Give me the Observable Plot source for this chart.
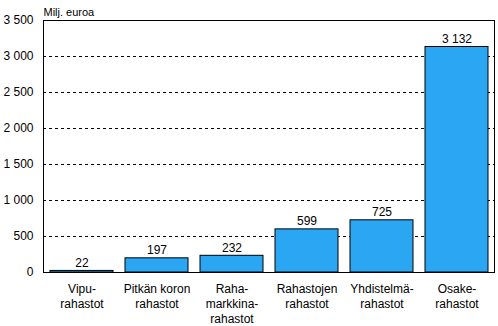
<!DOCTYPE html>
<html>
<head>
<meta charset="utf-8">
<script src="https://cdn.jsdelivr.net/npm/d3@7"></script>
<script src="https://cdn.jsdelivr.net/npm/@observablehq/plot@0.6"></script>
<style>
  html, body { margin: 0; padding: 0; background: #fff; }
  svg { display: block; }
</style>
</head>
<body>
<div id="chart"></div>
<script>
const categories = ["Vipu-\nrahastot", "Pitkän koron\nrahastot", "Raha-\nmarkkina-\nrahastot", "Rahastojen\nrahastot", "Yhdistelmä-\nrahastot", "Osake-\nrahastot"];
const values = [22, 197, 232, 599, 725, 3132];
const yTicks = [0, 500, 1000, 1500, 2000, 2500, 3000, 3500];
const gridTicks = [500, 1000, 1500, 2000, 2500, 3000];
const unitLabel = "Milj. euroa";

const data = categories.map((c, i) => ({cat: c, value: values[i]}));
const fmt = d => d3.format(",")(d).replace(/,/g, " ");

const chart = Plot.plot({
  width: 498,
  height: 326,
  marginTop: 20,
  marginLeft: 43,
  marginRight: 4,
  marginBottom: 54,
  style: {fontFamily: "'Liberation Sans', Arial, sans-serif", fontSize: "12px", color: "#000", background: "#fff"},
  x: {domain: categories, paddingInner: 0.16, paddingOuter: 0.08, label: null},
  y: {domain: [0, 3500], label: null},
  marks: [
    Plot.gridY(gridTicks, {stroke: "#000", strokeOpacity: 1, strokeDasharray: "3,3"}),
    Plot.barY(data, {x: "cat", y: "value", fill: "#2aa6f2", stroke: "#000", strokeWidth: 1}),
    Plot.text(data, {x: "cat", y: "value", text: d => fmt(d.value), lineAnchor: "bottom", dy: -4, fontSize: 12, fill: "#000"}),
    Plot.axisY({ticks: yTicks, tickSize: 0, tickPadding: 10, tickFormat: fmt, fontSize: 12, label: null}),
    Plot.axisX({tickSize: 0, tickPadding: 10, fontSize: 12, lineHeight: 1.25, label: null}),
    Plot.frame({stroke: "#000"}),
    Plot.text([unitLabel], {frameAnchor: "top-left", textAnchor: "start", lineAnchor: "bottom", dy: -5, dx: 0, fontSize: 11, fill: "#000"})
  ]
});
document.getElementById("chart").appendChild(chart);
</script>
</body>
</html>
